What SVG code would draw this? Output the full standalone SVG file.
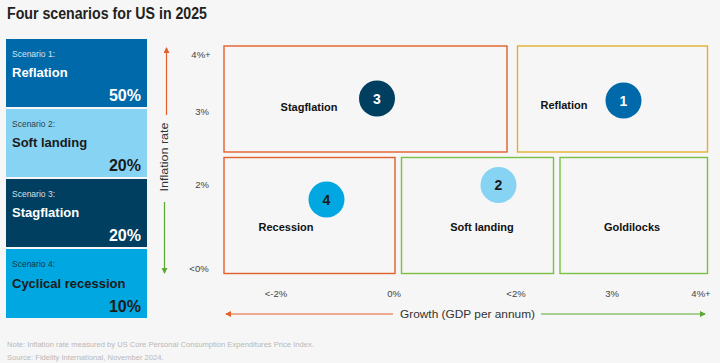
<svg xmlns="http://www.w3.org/2000/svg" width="720" height="363" viewBox="0 0 720 363">
<defs>
<style>
text{font-family:"Liberation Sans",Arial,sans-serif}
.title{font-size:16px;font-weight:bold;fill:#222}
.sl{font-size:8.5px}
.sn{font-size:13px;font-weight:bold}
.pc{font-size:16px;font-weight:bold;text-anchor:end}
.w{fill:#fff}
.d{fill:#1a1a1a}
.box{fill:none;stroke-width:1.4}
.or{stroke:#e2602a}
.go{stroke:#e3b02f}
.gr{stroke:#7ac143}
.bl{font-size:11px;font-weight:bold;fill:#111;text-anchor:middle}
.ax{font-size:9.5px;fill:#444;text-anchor:middle}
.axt{font-size:11.2px;fill:#333;text-anchor:middle}
.cn{font-size:14px;font-weight:bold;text-anchor:middle}
.ft{font-size:7.6px;fill:#b8b8b8}
</style>
<marker id="ao" viewBox="0 0 6 6" refX="5" refY="3" markerWidth="5" markerHeight="5" orient="auto"><path d="M0,0L6,3L0,6z" fill="#e2602a"/></marker>
<marker id="ag" viewBox="0 0 6 6" refX="5" refY="3" markerWidth="5" markerHeight="5" orient="auto"><path d="M0,0L6,3L0,6z" fill="#5aa832"/></marker>
</defs>
<rect width="720" height="363" fill="#f6f6f6"/>
<text class="title" x="7" y="19" textLength="200" lengthAdjust="spacingAndGlyphs">Four scenarios for US in 2025</text>

<g id="scenario1">
<rect x="6" y="39" width="141" height="68" fill="#0069aa"/>
<text class="sl w" x="12" y="57" fill-opacity="0.85">Scenario 1:</text>
<text class="sn w" x="12" y="77">Reflation</text>
<text class="pc w" x="141" y="101">50%</text>
</g>
<g id="scenario2">
<rect x="6" y="109" width="141" height="68" fill="#86d3f3"/>
<text class="sl d" x="12" y="127" fill-opacity="0.85">Scenario 2:</text>
<text class="sn d" x="12" y="147">Soft landing</text>
<text class="pc d" x="141" y="171">20%</text>
</g>
<g id="scenario3">
<rect x="6" y="179" width="141" height="68" fill="#003f60"/>
<text class="sl w" x="12" y="197" fill-opacity="0.85">Scenario 3:</text>
<text class="sn w" x="12" y="217">Stagflation</text>
<text class="pc w" x="141" y="241">20%</text>
</g>
<g id="scenario4">
<rect x="6" y="249" width="141" height="69" fill="#00a7e1"/>
<text class="sl d" x="12" y="267" fill-opacity="0.85">Scenario 4:</text>
<text class="sn d" x="12" y="288">Cyclical recession</text>
<text class="pc d" x="141" y="312">10%</text>
</g>

<g id="axes">
<line x1="166.5" y1="115" x2="166.5" y2="48" stroke="#e2602a" stroke-width="1.2" marker-end="url(#ao)"/>
<line x1="164.5" y1="202" x2="164.5" y2="273" stroke="#5aa832" stroke-width="1.2" marker-end="url(#ag)"/>
<text class="axt" transform="translate(168 157) rotate(-90)" textLength="69" lengthAdjust="spacingAndGlyphs">Inflation rate</text>
<text class="ax" x="201" y="58">4%+</text>
<text class="ax" x="202" y="115">3%</text>
<text class="ax" x="202" y="188">2%</text>
<text class="ax" x="199" y="272">&lt;0%</text>
<text class="ax" x="276" y="297">&lt;-2%</text>
<text class="ax" x="394" y="297">0%</text>
<text class="ax" x="516" y="297">&lt;2%</text>
<text class="ax" x="612" y="297">3%</text>
<text class="ax" x="701" y="297">4%+</text>
<line x1="393" y1="314" x2="226" y2="314" stroke="#e2602a" stroke-width="1.2" marker-end="url(#ao)"/>
<line x1="541" y1="314" x2="705" y2="314" stroke="#5aa832" stroke-width="1.2" marker-end="url(#ag)"/>
<text class="axt" x="467.5" y="317.5" textLength="135" lengthAdjust="spacingAndGlyphs">Growth (GDP per annum)</text>
</g>

<g id="stagflation">
<rect class="box or" x="224" y="46" width="283" height="106"/>
<text class="bl" x="309" y="111">Stagflation</text>
<circle cx="377" cy="98.5" r="18" fill="#003f60"/>
<text class="cn w" x="377" y="103.5">3</text>
</g>
<g id="reflation">
<rect class="box go" x="517.5" y="46" width="190" height="106"/>
<text class="bl" x="564" y="109">Reflation</text>
<circle cx="623.5" cy="100.5" r="18" fill="#0069aa"/>
<text class="cn w" x="623.5" y="105.5">1</text>
</g>
<g id="recession">
<rect class="box or" x="224" y="157.5" width="171" height="116"/>
<text class="bl" x="286" y="231">Recession</text>
<circle cx="326.5" cy="199.5" r="18" fill="#00a7e1"/>
<text class="cn d" x="326.5" y="204.5">4</text>
</g>
<g id="soft-landing">
<rect class="box gr" x="401.5" y="157.5" width="152" height="116"/>
<text class="bl" x="482" y="231">Soft landing</text>
<circle cx="498.5" cy="185" r="18" fill="#86d3f3"/>
<text class="cn d" x="498.5" y="190">2</text>
</g>
<g id="goldilocks">
<rect class="box gr" x="560" y="157.5" width="147.5" height="116"/>
<text class="bl" x="632" y="231">Goldilocks</text>
</g>

<text class="ft" x="7" y="347">Note: Inflation rate measured by US Core Personal Consumption Expenditures Price Index.</text>
<text class="ft" x="7" y="359.5">Source: Fidelity International, November 2024.</text>
</svg>
